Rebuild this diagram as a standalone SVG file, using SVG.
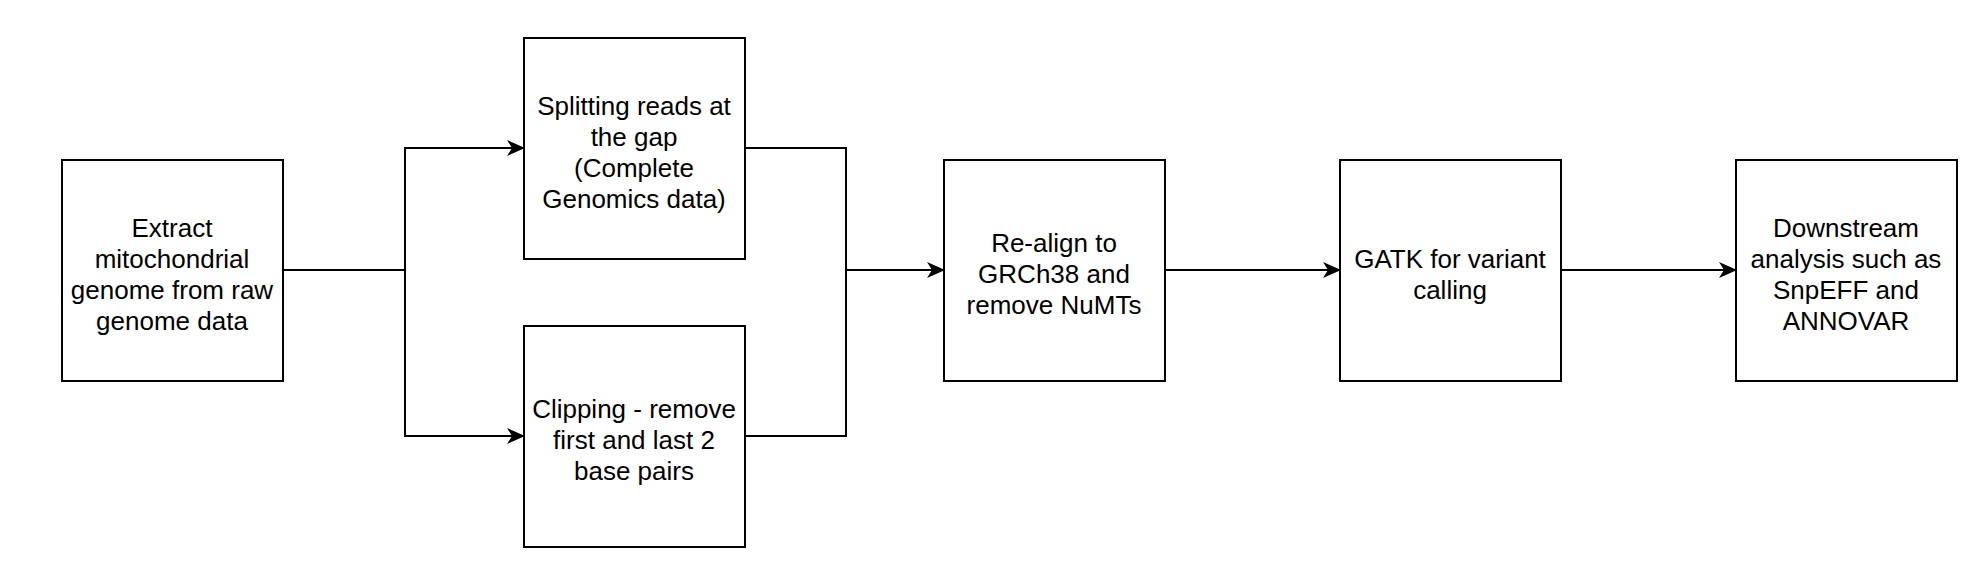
<svg xmlns="http://www.w3.org/2000/svg" width="1988" height="580" viewBox="0 0 1988 580">
<defs>
<style>
.n{fill:#fff;stroke:#000;stroke-width:2}
.t{font-family:"Liberation Sans",Arial,sans-serif;font-size:26px;fill:#000;text-anchor:middle}
.c{fill:none;stroke:#000;stroke-width:2}
</style>
<marker id="a" markerWidth="18" markerHeight="18" refX="17" refY="9" orient="auto" markerUnits="userSpaceOnUse"><path d="M0,1 L18,9 L0,17 L5,9 Z" fill="#000"/></marker>
</defs>
<rect width="1988" height="580" fill="#fff"/>
<g id="connectors">
<path class="c" d="M283,270 H405 V148 H524" marker-end="url(#a)"/>
<path class="c" d="M405,270 V436 H524" marker-end="url(#a)"/>
<path class="c" d="M745,148 H846 V436 H745"/>
<path class="c" d="M846,270 H944" marker-end="url(#a)"/>
<path class="c" d="M1165,270 H1340" marker-end="url(#a)"/>
<path class="c" d="M1561,270 H1736" marker-end="url(#a)"/>
</g>
<g id="extract"><rect class="n" x="62" y="160" width="221" height="221"/>
<text class="t" x="172" y="237">Extract</text><text class="t" x="172" y="268">mitochondrial</text><text class="t" x="172" y="299">genome from raw</text><text class="t" x="172" y="330">genome data</text></g>
<g id="split"><rect class="n" x="524" y="38" width="221" height="221"/>
<text class="t" x="634" y="115">Splitting reads at</text><text class="t" x="634" y="146">the gap</text><text class="t" x="634" y="177">(Complete</text><text class="t" x="634" y="208">Genomics data)</text></g>
<g id="clip"><rect class="n" x="524" y="326" width="221" height="221"/>
<text class="t" x="634" y="418">Clipping - remove</text><text class="t" x="634" y="449">first and last 2</text><text class="t" x="634" y="480">base pairs</text></g>
<g id="realign"><rect class="n" x="944" y="160" width="221" height="221"/>
<text class="t" x="1054" y="252">Re-align to</text><text class="t" x="1054" y="283">GRCh38 and</text><text class="t" x="1054" y="314">remove NuMTs</text></g>
<g id="gatk"><rect class="n" x="1340" y="160" width="221" height="221"/>
<text class="t" x="1450" y="268">GATK for variant</text><text class="t" x="1450" y="299">calling</text></g>
<g id="downstream"><rect class="n" x="1736" y="160" width="221" height="221"/>
<text class="t" x="1846" y="237">Downstream</text><text class="t" x="1846" y="268">analysis such as</text><text class="t" x="1846" y="299">SnpEFF and</text><text class="t" x="1846" y="330">ANNOVAR</text></g>
</svg>
